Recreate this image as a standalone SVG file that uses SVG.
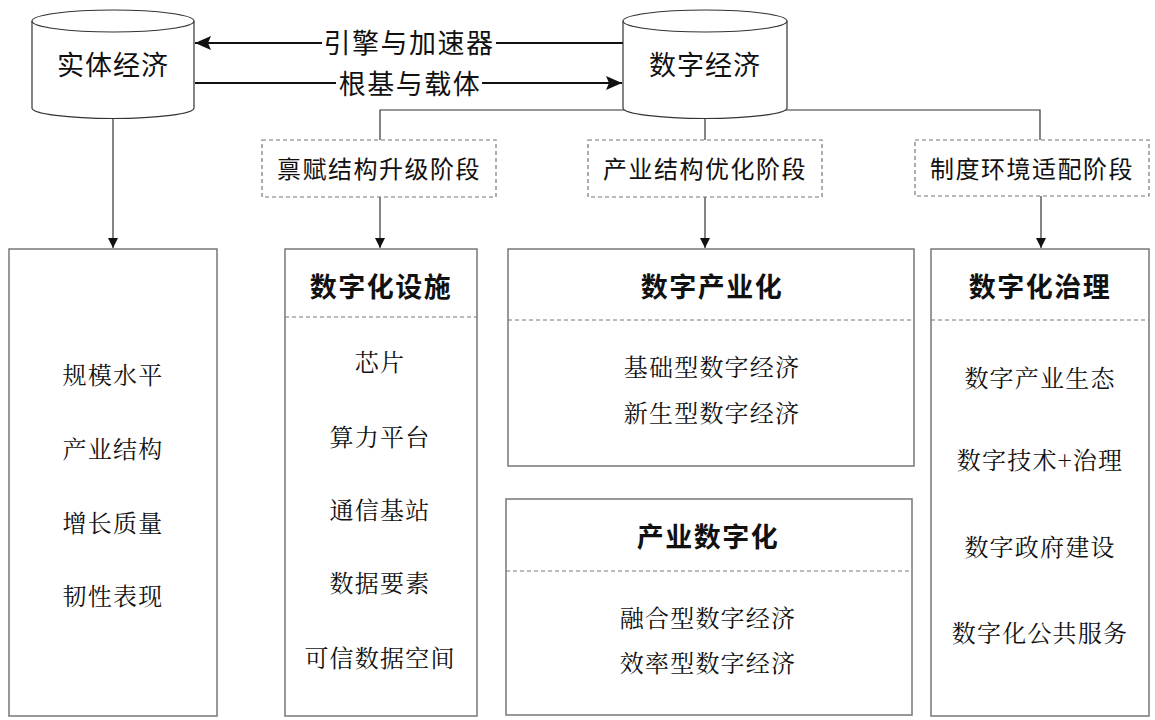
<svg xmlns="http://www.w3.org/2000/svg" width="1155" height="720" viewBox="0 0 1155 720">
<defs>
<style>
text{font-family:"Noto Serif CJK SC","Noto Sans CJK SC",sans-serif;fill:#111;text-anchor:middle;dominant-baseline:central}
.cyl{fill:#fff;stroke:#333;stroke-width:1.2}
.ct{font-family:"Noto Sans CJK SC",sans-serif;font-size:27px;letter-spacing:1px}
.lbl{font-family:"Noto Sans CJK SC",sans-serif;font-size:27px;letter-spacing:1.5px}
.stage rect{fill:#fff;stroke:#777;stroke-width:1.2;stroke-dasharray:4 3}
.st{font-family:"Noto Sans CJK SC",sans-serif;font-size:24px;letter-spacing:1.5px}
.box{fill:#fff;stroke:#777;stroke-width:1.5}
.div{stroke:#777;stroke-width:1;stroke-dasharray:4 3}
.hd{font-family:"Noto Sans CJK SC",sans-serif;font-size:27px;font-weight:bold;letter-spacing:1.5px}
.it{font-size:24px;letter-spacing:1.2px}
.thin{stroke:#333;stroke-width:1.2;fill:none}
.thick{stroke:#111;stroke-width:2.2;fill:none}
</style>
<marker id="ah" markerWidth="10" markerHeight="10" refX="10" refY="5" orient="auto" markerUnits="userSpaceOnUse" viewBox="0 0 10 10">
<path d="M0,0 L10,5 L0,10 Z" fill="#111"/>
</marker>
<marker id="ahb" markerWidth="16" markerHeight="14" refX="16" refY="7" orient="auto" markerUnits="userSpaceOnUse" viewBox="0 0 16 14">
<path d="M0,0 L16,7 L0,14 L3,7 Z" fill="#111"/>
</marker>
</defs>
<rect width="1155" height="720" fill="#fff"/>

<g id="connectors">
<path class="thin" d="M380,140 V110 H1040 V140"/>
<path class="thin" d="M705,118 V140"/>
<path class="thin" d="M113,118 V248" marker-end="url(#ah)"/>
<path class="thin" d="M380,197 V248" marker-end="url(#ah)"/>
<path class="thin" d="M705,197 V248" marker-end="url(#ah)"/>
<path class="thin" d="M1041,196 V248" marker-end="url(#ah)"/>
<path class="thick" d="M623,43 H195" marker-end="url(#ahb)"/>
<path class="thick" d="M195,83 H622" marker-end="url(#ahb)"/>
<rect x="322" y="28" width="174" height="30" fill="#fff"/>
<text class="lbl" x="409" y="41">引擎与加速器</text>
<rect x="336" y="68" width="146" height="30" fill="#fff"/>
<text class="lbl" x="410" y="82">根基与载体</text>
</g>

<g id="cyl-real">
<path class="cyl" d="M32,21 V108 A81,10.5 0 0 0 194,108 V21"/>
<ellipse class="cyl" cx="113" cy="21" rx="81" ry="11"/>
<text class="ct" x="113" y="63">实体经济</text>
</g>

<g id="cyl-digital">
<path class="cyl" d="M623,21 V108 A82,10.5 0 0 0 787,108 V21"/>
<ellipse class="cyl" cx="705" cy="21" rx="82" ry="11"/>
<text class="ct" x="705" y="63">数字经济</text>
</g>

<g id="stage1" class="stage">
<rect x="262" y="140" width="234" height="57"/>
<text class="st" x="379" y="167">禀赋结构升级阶段</text>
</g>
<g id="stage2" class="stage">
<rect x="588" y="140" width="234" height="57"/>
<text class="st" x="705" y="167">产业结构优化阶段</text>
</g>
<g id="stage3" class="stage">
<rect x="915" y="140" width="234" height="56"/>
<text class="st" x="1032" y="167">制度环境适配阶段</text>
</g>

<g id="box-real">
<rect class="box" x="9" y="249" width="208" height="467"/>
<text class="it" x="113" y="373">规模水平</text>
<text class="it" x="113" y="447">产业结构</text>
<text class="it" x="113" y="521">增长质量</text>
<text class="it" x="113" y="594">韧性表现</text>
</g>

<g id="box-infra">
<rect class="box" x="285" y="249" width="192" height="467"/>
<text class="hd" x="381" y="285">数字化设施</text>
<line class="div" x1="285" y1="317" x2="477" y2="317"/>
<text class="it" x="380" y="360">芯片</text>
<text class="it" x="380" y="435">算力平台</text>
<text class="it" x="380" y="508">通信基站</text>
<text class="it" x="380" y="581">数据要素</text>
<text class="it" x="380" y="656">可信数据空间</text>
</g>

<g id="box-indus">
<rect class="box" x="508" y="249" width="406" height="217"/>
<text class="hd" x="712" y="285">数字产业化</text>
<line class="div" x1="508" y1="320" x2="914" y2="320"/>
<text class="it" x="712" y="365">基础型数字经济</text>
<text class="it" x="712" y="411">新生型数字经济</text>
</g>

<g id="box-digit">
<rect class="box" x="506" y="499" width="406" height="216"/>
<text class="hd" x="708" y="535">产业数字化</text>
<line class="div" x1="506" y1="571" x2="912" y2="571"/>
<text class="it" x="708" y="616">融合型数字经济</text>
<text class="it" x="708" y="661">效率型数字经济</text>
</g>

<g id="box-gov">
<rect class="box" x="931" y="249" width="218" height="467"/>
<text class="hd" x="1040" y="285">数字化治理</text>
<line class="div" x1="931" y1="320" x2="1149" y2="320"/>
<text class="it" x="1040" y="376">数字产业生态</text>
<text class="it" x="1040" y="458">数字技术+治理</text>
<text class="it" x="1040" y="545">数字政府建设</text>
<text class="it" x="1040" y="631">数字化公共服务</text>
</g>
</svg>
